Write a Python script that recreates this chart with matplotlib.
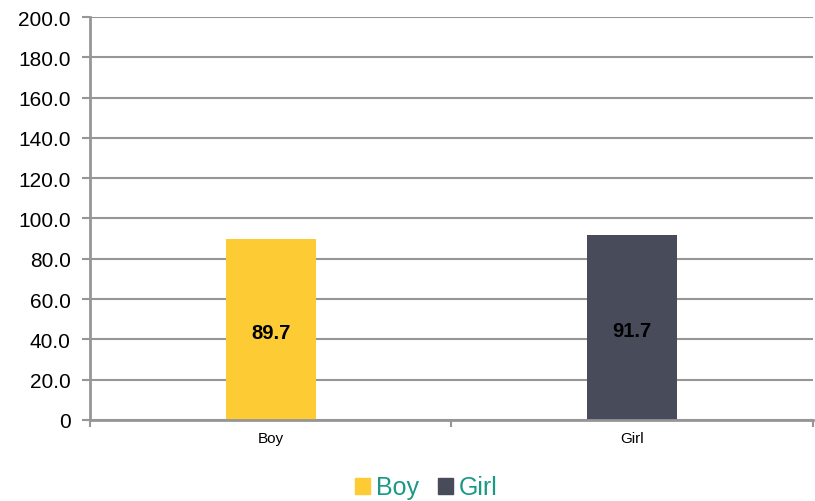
import matplotlib.pyplot as plt
import numpy as np

categories = ['Boy', 'Girl']
values = [89.7, 91.7]
colors = ['#FDCB33', '#484B5A']
yticks = [0, 20, 40, 60, 80, 100, 120, 140, 160, 180, 200]
ylabels = ['0'] + ['%.1f' % t for t in yticks[1:]]

plt.rcParams['font.family'] = ['Liberation Sans', 'DejaVu Sans']
grey = '#969696'

fig = plt.figure(figsize=(8.15, 5.02), dpi=100)
ax = fig.add_axes([0.1104, 0.1614, 0.887, 0.8027])

x = np.arange(len(categories))
bars = ax.bar(x, values, width=0.25, color=colors, zorder=3)

for b, v in zip(bars, values):
    ax.text(b.get_x() + b.get_width() / 2, v / 2 - 1.5, '%.1f' % v,
            ha='center', va='center', fontsize=14.5, fontweight='bold', zorder=4)

ax.set_xlim(-0.5, 1.5)
ax.set_ylim(0, 200)
ax.set_yticks(yticks)
ax.set_yticklabels(ylabels, fontsize=15)
ax.set_xticks(x)
ax.set_xticklabels(categories, fontsize=11)
ax.set_xticks([-0.5, 0.5, 1.5], minor=True)
ax.tick_params(axis='x', which='major', length=0, pad=8)
ax.tick_params(axis='x', which='minor', length=5, width=1.5, color=grey)
ax.tick_params(axis='y', length=6, width=1.5, color=grey, pad=8)

ax.grid(axis='y', color=grey, linewidth=1.5, zorder=0)
for s in ['top', 'right']:
    ax.spines[s].set_visible(False)
for s in ['left', 'bottom']:
    ax.spines[s].set_color(grey)
    ax.spines[s].set_linewidth(2)
ax.spines['bottom'].set_zorder(5)

handles = [plt.Rectangle((0, 0), 1, 1, color=c) for c in colors]
leg = fig.legend(handles, categories, loc='center', bbox_to_anchor=(0.523, 0.027),
                 ncol=2, frameon=False, fontsize=18, handlelength=0.6, handleheight=0.6,
                 handletextpad=0.25, columnspacing=0.75)
for t in leg.get_texts():
    t.set_color('#1A9A85')

fig.savefig('out.png', dpi=100)
